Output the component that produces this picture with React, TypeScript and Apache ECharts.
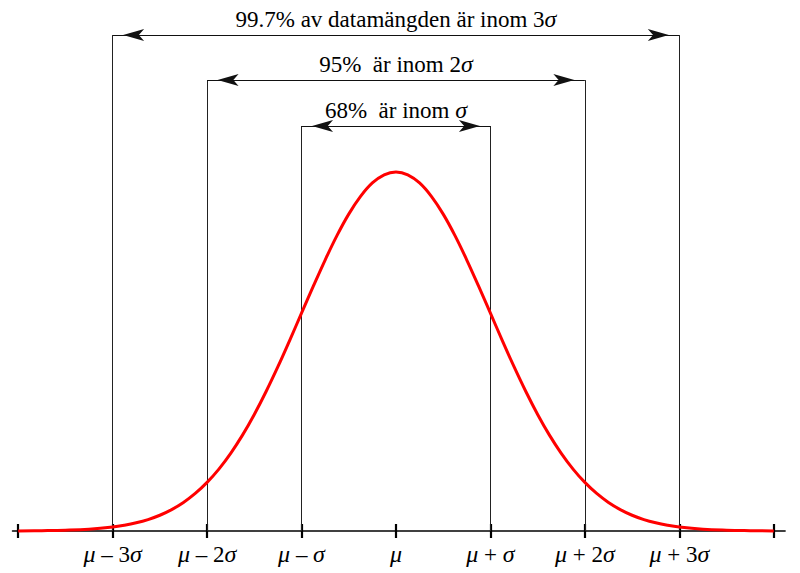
import React, { useEffect, useRef } from "react";
import * as echarts from "echarts";

// Curve samples (x in units of σ from μ, y = density)
const X_VALUES = [
  -4, -3.75, -3.5, -3.25, -3, -2.875, -2.75, -2.625, -2.5, -2.375, -2.25, -2.125, -2, -1.875,
  -1.75, -1.625, -1.5, -1.375, -1.25, -1.125, -1, -0.875, -0.75, -0.625, -0.5, -0.375, -0.25,
  -0.125, 0, 0.125, 0.25, 0.375, 0.5, 0.625, 0.75, 0.875, 1, 1.125, 1.25, 1.375, 1.5, 1.625,
  1.75, 1.875, 2, 2.125, 2.25, 2.375, 2.5, 2.625, 2.75, 2.875, 3, 3.25, 3.5, 3.75, 4,
];
const Y_VALUES = [
  0.0001, 0.0004, 0.0009, 0.002, 0.0044, 0.0064, 0.0091, 0.0127, 0.0175, 0.0238, 0.0317, 0.0417,
  0.054, 0.0688, 0.0863, 0.1065, 0.1295, 0.155, 0.1826, 0.2119, 0.242, 0.272, 0.3011, 0.3282,
  0.3521, 0.3718, 0.3867, 0.3958, 0.3989, 0.3958, 0.3867, 0.3718, 0.3521, 0.3282, 0.3011, 0.272,
  0.242, 0.2119, 0.1826, 0.155, 0.1295, 0.1065, 0.0863, 0.0688, 0.054, 0.0417, 0.0317, 0.0238,
  0.0175, 0.0127, 0.0091, 0.0064, 0.0044, 0.002, 0.0009, 0.0004, 0.0001,
];

const TICK_VALUES = [-4, -3, -2, -1, 0, 1, 2, 3, 4];
const LABEL_VALUES = [-3, -2, -1, 0, 1, 2, 3];
const TICK_LABELS = [
  "{i|μ} – 3{i|σ}",
  "{i|μ} – 2{i|σ}",
  "{i|μ} – {i|σ}",
  "{i|μ}",
  "{i|μ} + {i|σ}",
  "{i|μ} + 2{i|σ}",
  "{i|μ} + 3{i|σ}",
];

// Interval annotations: half-width (in σ), arrow height, text
const SPANS = [1, 2, 3];
const ARROW_HEIGHTS = [0.45, 0.501, 0.551];
const SPAN_TEXTS = [
  "68%  är inom {i|σ}",
  "95%  är inom 2{i|σ}",
  "99.7% av datamängden är inom 3{i|σ}",
];

const FONT = "Liberation Serif";

export default function App() {
  const ref = useRef<HTMLDivElement>(null);

  useEffect(() => {
    if (!ref.current) return;
    const chart = echarts.init(ref.current, null, { renderer: "svg" });

    const arrowEnd = {
      symbol: "arrow",
      symbolSize: [9, 21],
      symbolOffset: [0, 10.5],
      itemStyle: { color: "#000" },
    };

    const markData: any[] = [];
    SPANS.forEach((s, i) => {
      const h = ARROW_HEIGHTS[i];
      // vertical guide lines
      markData.push([{ coord: [-s, 0] }, { coord: [-s, h] }]);
      markData.push([{ coord: [s, 0] }, { coord: [s, h] }]);
      // double arrow with text
      markData.push([
        {
          coord: [-s, h],
          ...arrowEnd,
          lineStyle: { color: "#111", width: 1.1 },
          label: {
            show: true,
            position: "insideMiddleTop",
            distance: 4,
            formatter: SPAN_TEXTS[i],
            color: "#000",
            fontFamily: FONT,
            fontSize: 23,
            rich: { i: { fontStyle: "italic", fontFamily: FONT, fontSize: 24, color: "#000" } },
          },
        },
        { coord: [s, h], ...arrowEnd },
      ]);
    });

    const axisCommon = {
      type: "value" as const,
      min: -4.06,
      max: 4.12,
      splitLine: { show: false },
      position: "bottom" as const,
    };

    chart.setOption({
      animation: false,
      grid: { left: 12.5, right: 14.9, top: 27, bottom: 42 },
      xAxis: [
        {
          ...axisCommon,
          axisLine: { show: true, onZero: false, lineStyle: { color: "#000", width: 1.5 } },
          axisTick: {
            show: true,
            inside: false,
            length: 7,
            customValues: TICK_VALUES,
            lineStyle: { color: "#000", width: 2.2 },
          },
          axisLabel: {
            show: true,
            customValues: LABEL_VALUES,
            margin: 11,
            color: "#000",
            fontFamily: FONT,
            fontSize: 23,
            formatter: (v: number) => TICK_LABELS[LABEL_VALUES.indexOf(Math.round(v))] ?? "",
            rich: { i: { fontStyle: "italic", fontFamily: FONT, fontSize: 24, color: "#000" } },
          },
        },
        {
          ...axisCommon,
          axisLine: { show: false },
          axisTick: {
            show: true,
            inside: true,
            length: 7,
            customValues: TICK_VALUES,
            lineStyle: { color: "#000", width: 2.2 },
          },
          axisLabel: { show: false },
        },
      ],
      yAxis: { type: "value", min: 0, max: 0.56, show: false },
      series: [
        {
          type: "line",
          data: X_VALUES.map((x, i) => [x, Y_VALUES[i]]),
          smooth: 0.4,
          symbol: "none",
          clip: false,
          z: 3,
          lineStyle: { color: "#ff0000", width: 3 },
          markLine: {
            silent: true,
            z: 1,
            symbol: ["none", "none"],
            label: { show: false },
            lineStyle: { color: "#222", width: 1, type: "solid" },
            emphasis: { disabled: true },
            data: markData,
          },
        },
      ],
    });

    return () => chart.dispose();
  }, []);

  return (
    <div
      ref={ref}
      style={{ position: "fixed", left: 0, top: 0, width: 800, height: 573, background: "#fff" }}
    />
  );
}
